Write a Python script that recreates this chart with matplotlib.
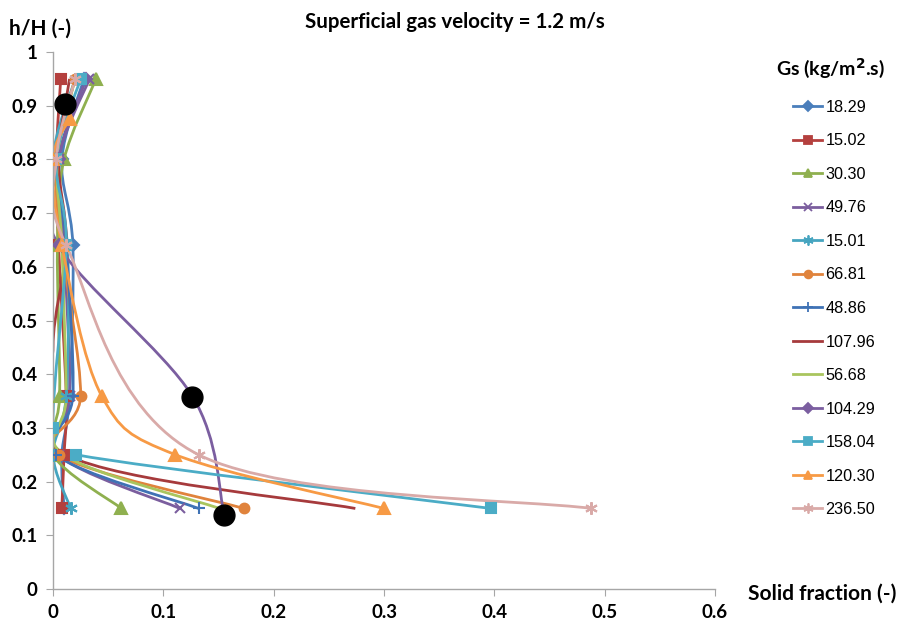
import matplotlib.pyplot as plt
from matplotlib.path import Path
from matplotlib.patches import PathPatch
from matplotlib.lines import Line2D
import numpy as np

# values (x = solid fraction, y = h/H)
labels = ['18.29', '15.02', '30.30', '49.76', '15.01', '66.81', '48.86',
          '107.96', '56.68', '104.29', '158.04', '120.30', '236.50']

y_std = [0.15, 0.25, 0.36, 0.64, 0.80, 0.95]

x_1829 = [0.010, 0.008, 0.015, 0.018, 0.008, 0.028]
x_1502 = [0.008, 0.010, 0.012, 0.005, 0.003, 0.007]
x_3030 = [0.062, 0.000, 0.006, 0.004, 0.010, 0.039]
x_4976 = [0.115, 0.005, 0.015, 0.010, 0.005, 0.033]
x_1501 = [0.016, 0.000, 0.012, 0.013, 0.000, 0.020]
x_6681 = [0.173, 0.005, 0.025, 0.008, 0.003, 0.020]
x_4886 = [0.132, 0.003, 0.018, 0.012, 0.005, 0.030]
x_10796 = [0.274, 0.012, 0.000, 0.012, 0.005, 0.015]
y_10796 = [0.15, 0.25, 0.45, 0.64, 0.80, 0.95]
x_5668 = [0.151, 0.010, 0.012, 0.008, 0.004, 0.020]
x_10429 = [0.155, 0.126, 0.005, 0.005, 0.030]
y_10429 = [0.14, 0.36, 0.64, 0.80, 0.95]
x_15804 = [0.397, 0.021, 0.000, 0.012, 0.003, 0.025]
y_15804 = [0.15, 0.25, 0.30, 0.64, 0.80, 0.95]
x_12030 = [0.300, 0.111, 0.044, 0.008, 0.000, 0.015]
y_12030 = [0.15, 0.25, 0.36, 0.64, 0.80, 0.875]
x_23650 = [0.488, 0.132, 0.012, 0.003, 0.020]
y_23650 = [0.15, 0.25, 0.64, 0.80, 0.95]

# big black dots drawn over the chart
dots_x = [0.155, 0.126, 0.011]
dots_y = [0.138, 0.357, 0.903]

series = [
    (x_1829, y_std, '#4A7EBB', 'D', 6),
    (x_1502, y_std, '#B4403E', 's', 7),
    (x_3030, y_std, '#8FB04F', '^', 8),
    (x_4976, y_std, '#7B5E9E', 'x', 7),
    (x_1501, y_std, '#46A5C0', (6, 2, 0), 9),
    (x_6681, y_std, '#E0833C', 'o', 7),
    (x_4886, y_std, '#3F72B5', '+', 9),
    (x_10796, y_10796, '#A63A3C', None, 0),
    (x_5668, y_std, '#A9C55E', None, 0),
    (x_10429, y_10429, '#7B5EA0', 'D', 6),
    (x_15804, y_15804, '#4BACC6', 's', 7),
    (x_12030, y_12030, '#F79A45', '^', 8),
    (x_23650, y_23650, '#D9AAA8', (6, 2, 0), 9),
]


def smooth_path(xs, ys):
    # Catmull-Rom through the points, drawn as cubic Bezier segments
    p = np.column_stack([xs, ys])
    n = len(p)
    verts = [p[0]]
    codes = [Path.MOVETO]
    for i in range(n - 1):
        p0 = p[i - 1] if i > 0 else p[i]
        p3 = p[i + 2] if i + 2 < n else p[i + 1]
        c1 = p[i] + (p[i + 1] - p0) / 6.0
        c2 = p[i + 1] - (p3 - p[i]) / 6.0
        verts += [c1, c2, p[i + 1]]
        codes += [Path.CURVE4] * 3
    return Path(verts, codes)


plt.rcParams['font.family'] = ['Lato', 'DejaVu Sans']

fig = plt.figure(figsize=(9, 6.28), dpi=100)
ax = fig.add_axes([0.0589, 0.0621, 0.7356, 0.855])

handles = []
for (xs, ys, col, mk, ms), lab in zip(series, labels):
    ax.add_patch(PathPatch(smooth_path(xs, ys), facecolor='none',
                           edgecolor=col, lw=2.0, zorder=2))
    if mk is not None:
        ax.plot(xs, ys, ls='none', marker=mk, ms=ms, color=col,
                mec=col, mew=1.5, zorder=3)
    handles.append(Line2D([], [], color=col, lw=2.0, marker=mk, ms=ms * 0.8,
                          mec=col, mew=1.3))

ax.plot(dots_x, dots_y, ls='none', marker='o', ms=15, color='black', zorder=5)

ax.set_xlim(0, 0.6)
ax.set_ylim(0, 1)
ax.set_xticks(np.arange(0, 0.61, 0.1))
ax.set_xticklabels(['0', '0.1', '0.2', '0.3', '0.4', '0.5', '0.6'])
ax.set_yticks(np.arange(0, 1.01, 0.1))
ax.set_yticklabels(['0', '0.1', '0.2', '0.3', '0.4', '0.5', '0.6',
                    '0.7', '0.8', '0.9', '1'])
for s in ['top', 'right']:
    ax.spines[s].set_visible(False)
for s in ['left', 'bottom']:
    ax.spines[s].set_color('#A6A6A6')
    ax.spines[s].set_linewidth(1.0)
ax.tick_params(axis='both', direction='out', length=5, color='#A6A6A6',
               labelsize=13.5, pad=6)
for t in ax.get_xticklabels() + ax.get_yticklabels():
    t.set_fontweight('bold')

fig.text(0.505, 0.965, 'Superficial gas velocity = 1.2 m/s', ha='center',
         va='center', fontsize=14.8, fontweight='bold')
fig.text(0.010, 0.955, 'h/H (-)', ha='left', va='center', fontsize=15,
         fontweight='bold')
fig.text(0.831, 0.054, 'Solid fraction (-)', ha='left', va='center',
         fontsize=15, fontweight='bold')
fig.text(0.923, 0.891, 'Gs (kg/m$\\mathbf{^2}$.s)', ha='center', va='center',
         fontsize=14, fontweight='bold')

fig.legend(handles, labels, loc='upper left', bbox_to_anchor=(0.881, 0.841),
           frameon=False, handlelength=1.8, handletextpad=0.2,
           labelspacing=1.14, borderaxespad=0, borderpad=0,
           prop={'family': 'Liberation Sans', 'size': 11.7})

fig.savefig('out.png', dpi=100)
